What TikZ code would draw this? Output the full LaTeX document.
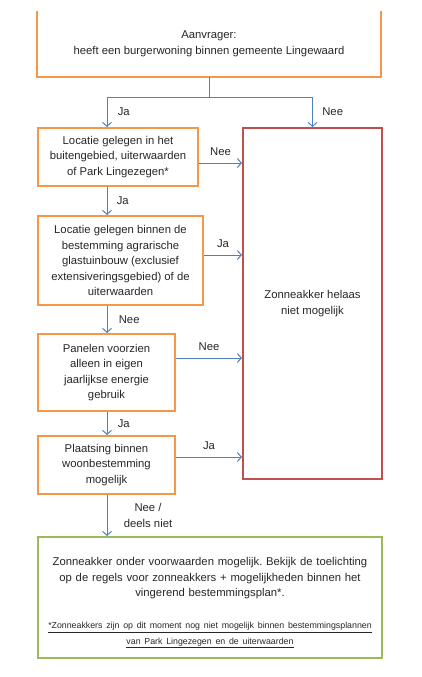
\documentclass[tikz,border=0pt]{standalone}
\usepackage{fontspec}
\setmainfont{Liberation Sans}
\usetikzlibrary{arrows.meta}
\frenchspacing

\definecolor{boxorange}{HTML}{F79646}
\definecolor{boxred}{HTML}{C0504D}
\definecolor{boxgreen}{HTML}{9BBB59}
\definecolor{linkblue}{HTML}{4F81BD}

\begin{document}
\begin{tikzpicture}[x=1pt, y=-1pt,
  every node/.style={font=\fontsize{11.3}{15.5}\selectfont, text=black!85},
  stepbox/.style={draw=boxorange, line width=2pt, align=center, inner sep=0pt},
  flow/.style={draw=linkblue, line width=1pt, -{Straight Barb[length=4pt, width=9pt]}}]
  \useasboundingbox (0,0) rectangle (422,677);
  \coordinate (spine) at (107,0);

  % applicant, top edge cut off
  \node[align=center, inner sep=0pt, minimum width=344pt, minimum height=66pt] (aanvr) at (209,44)
       {Aanvrager:\\heeft een burgerwoning binnen gemeente Lingewaard};
  \draw[boxorange, line width=2pt] (aanvr.north west) -- (aanvr.south west) --
        (aanvr.south east) -- (aanvr.north east);

  % questions
  \node[stepbox, minimum width=160pt, minimum height=58pt] (buiten) at (118,157)
       {Locatie gelegen in het\\buitengebied, uiterwaarden\\of Park Lingezegen*};
  \node[stepbox, minimum width=165pt, minimum height=89pt] (glas) at (120.5,260.5)
       {Locatie gelegen binnen de\\bestemming agrarische\\glastuinbouw (exclusief\\extensiveringsgebied) of de\\uiterwaarden};
  \node[stepbox, minimum width=137pt, minimum height=77pt] (panelen) at (106.5,372.5)
       {Panelen voorzien\\alleen in eigen\\jaarlijkse energie\\gebruik};
  \node[stepbox, minimum width=137pt, minimum height=58pt] (plaatsing) at (106.5,465)
       {Plaatsing binnen\\woonbestemming\\mogelijk};

  % outcomes
  \node[draw=boxred, line width=2pt, align=center, minimum width=139pt, minimum height=351pt] (nietmog)
       at (312.5,303.5) {Zonneakker helaas\\niet mogelijk};
  \node[draw=boxgreen, line width=2pt, minimum width=344pt, minimum height=121pt] (onder) at (210,597.5) {};
  \node[align=center, text width=340pt] (ondertxt) at (210,603)
       {Zonneakker onder voorwaarden mogelijk. Bekijk de toelichting\\
        op de regels voor zonneakkers + mogelijkheden binnen het\\
        vingerend bestemmingsplan*.\\[16pt]
        {\fontsize{8.8}{16}\selectfont
         \underline{*Zonneakkers zijn op dit moment nog niet mogelijk binnen bestemmingsplannen}\\
         \underline{van Park Lingezegen en de uiterwaarden}}};

  % split below applicant
  \coordinate (split) at (209,97);
  \draw[linkblue, line width=1pt] (aanvr.south) -- (split);
  \draw[flow] (split) -| (buiten.north -| spine) node[pos=.75, right=7pt]{Ja};
  \draw[flow] (split) -| (nietmog.north) node[pos=.75, right=6pt]{Nee};

  % down the column
  \draw[flow] (buiten.south -| spine) -- (glas.north -| spine) node[midway, right=6pt]{Ja};
  \draw[flow] (glas.south -| spine) -- (panelen.north -| spine) node[midway, right=8pt]{Nee};
  \draw[flow] (panelen.south -| spine) -- (plaatsing.north -| spine) node[midway, right=7pt]{Ja};
  \draw[flow] (plaatsing.south -| spine) -- (onder.north -| spine)
        node[midway, right=13pt, align=center, font=\fontsize{11.3}{16}\selectfont]{Nee /\\deels niet};

  % across to the red box
  \draw[flow] ([yshift=-6pt]buiten.east) -- ([yshift=-6pt]buiten.east -| nietmog.west) node[midway, above=4pt]{Nee};
  \draw[flow] ([yshift=5.5pt]glas.east) -- ([yshift=5.5pt]glas.east -| nietmog.west) node[midway, above=4pt]{Ja};
  \draw[flow] ([yshift=14.5pt]panelen.east) -- ([yshift=14.5pt]panelen.east -| nietmog.west) node[midway, above=4pt]{Nee};
  \draw[flow] ([yshift=8pt]plaatsing.east) -- ([yshift=8pt]plaatsing.east -| nietmog.west) node[midway, above=4pt]{Ja};

\end{tikzpicture}
\end{document}
